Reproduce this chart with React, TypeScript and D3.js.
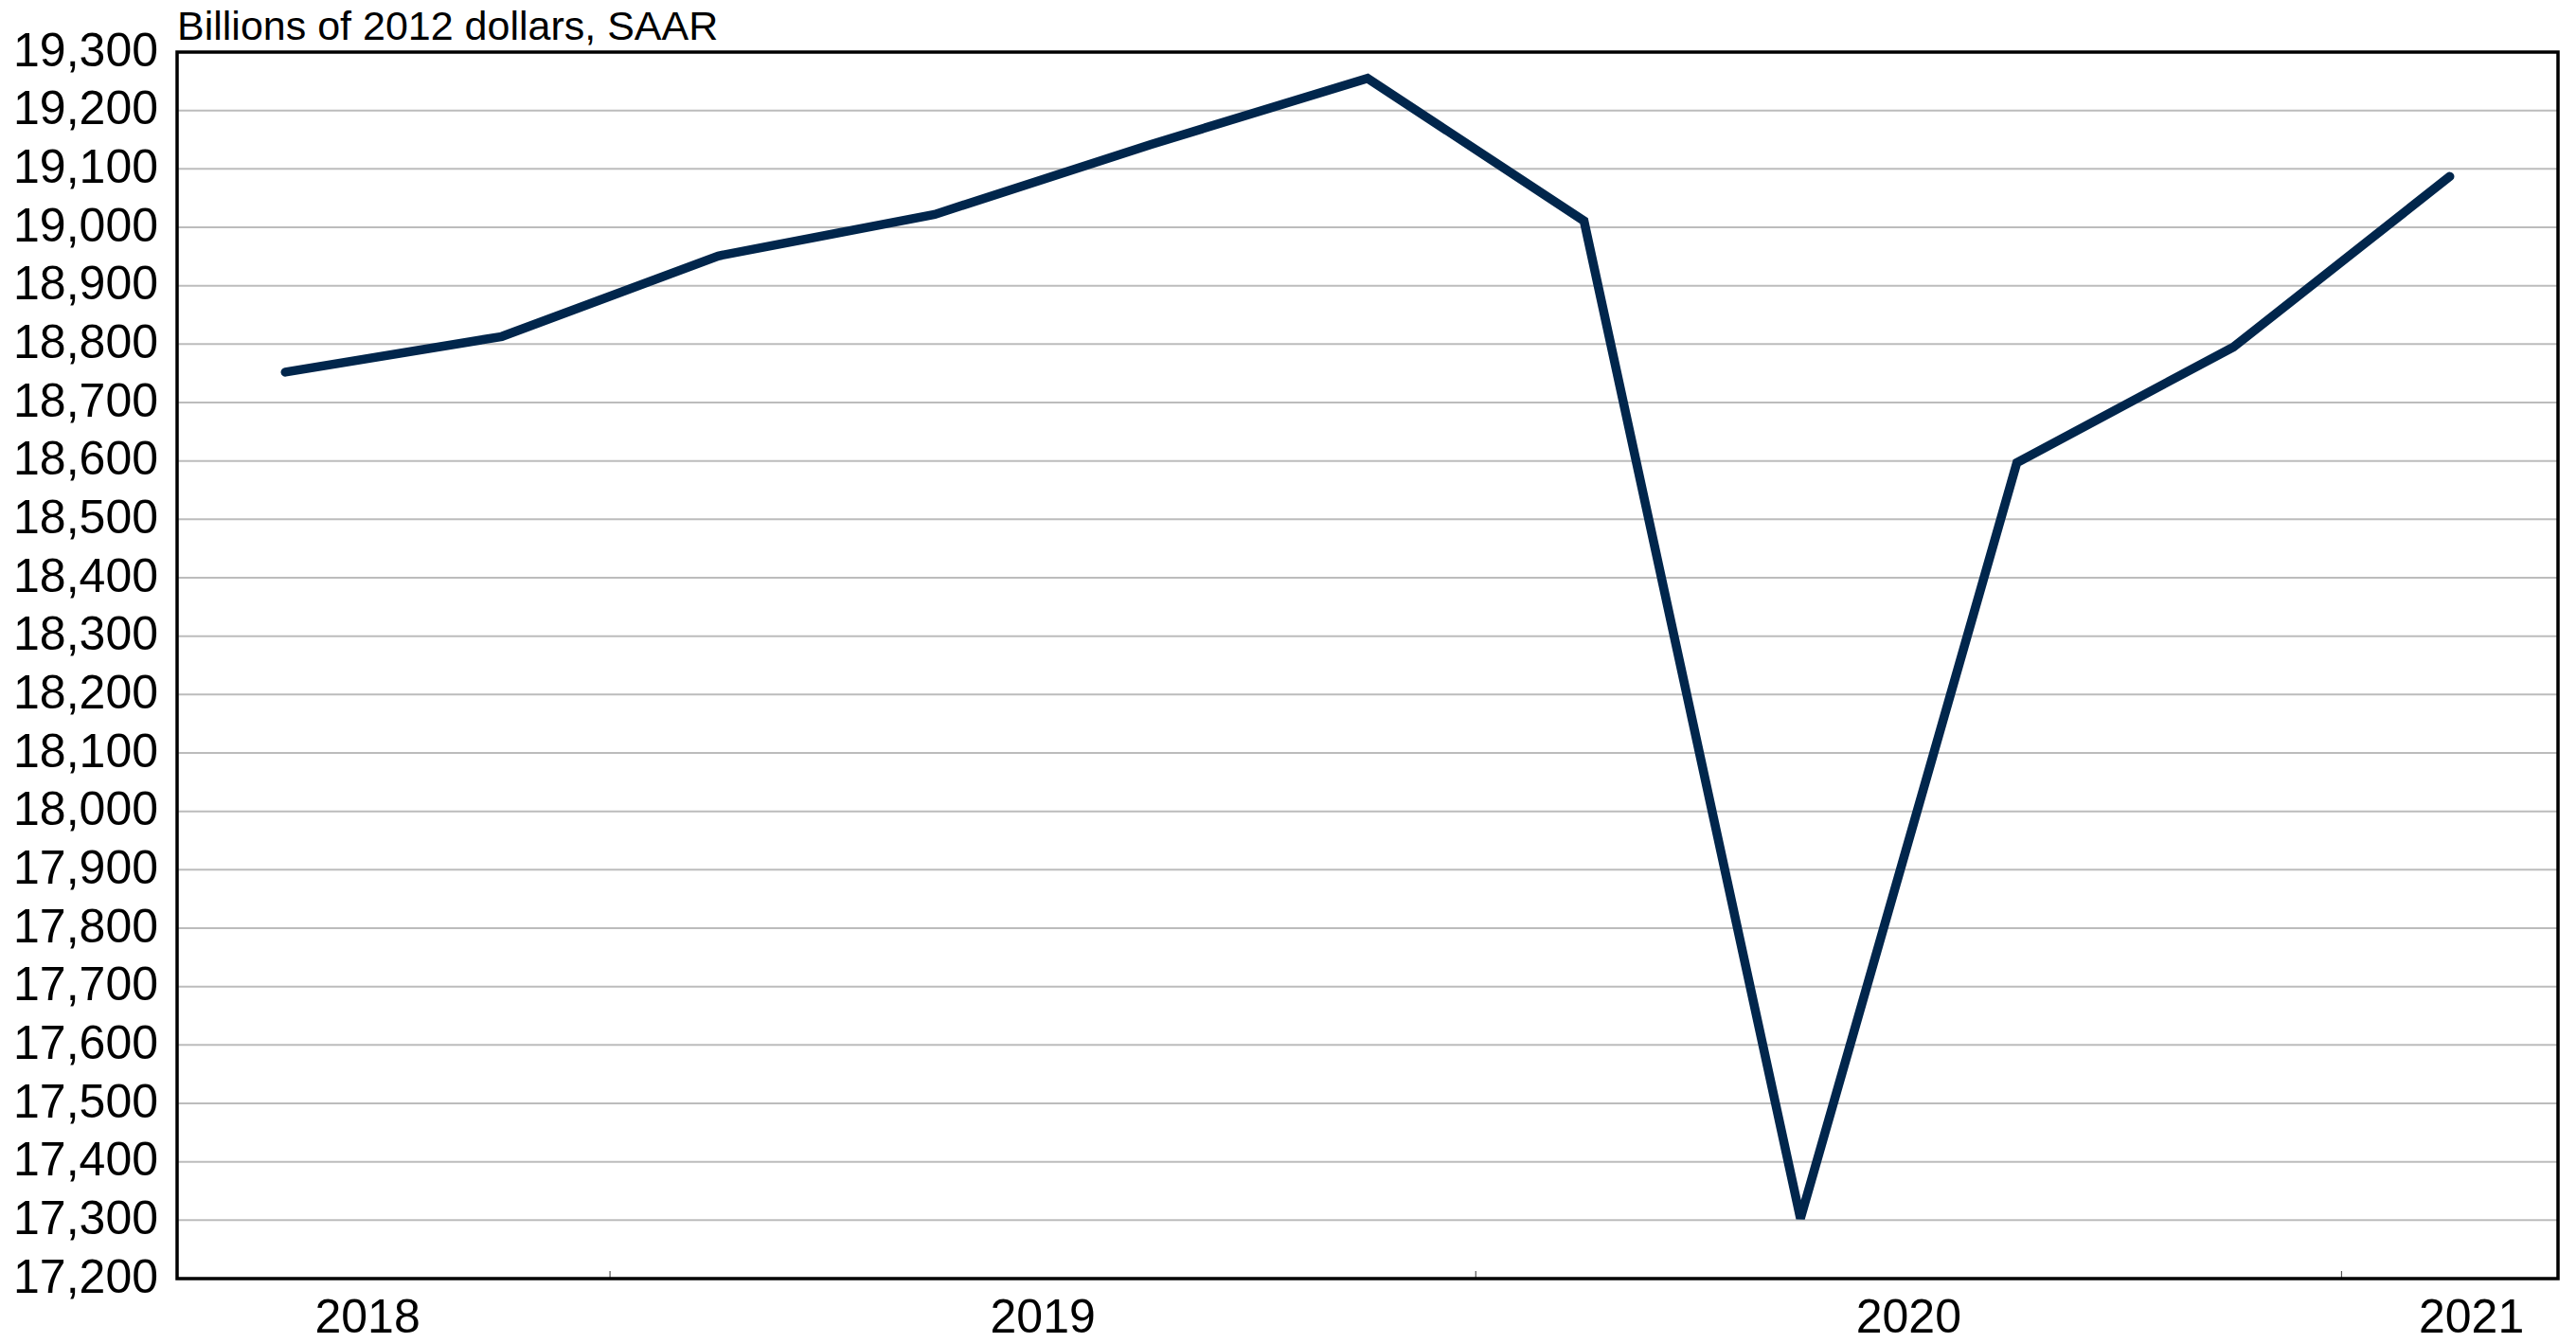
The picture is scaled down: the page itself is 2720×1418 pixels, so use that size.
import React from "react";
import * as d3 from "d3";

// real GDP, quarterly, 2018Q3 .. 2021Q1
const quarters = ["2018Q3", "2018Q4", "2019Q1", "2019Q2", "2019Q3", "2019Q4", "2020Q1", "2020Q2", "2020Q3", "2020Q4", "2021Q1"];
const gdp = [18752, 18813, 18951, 19022, 19142, 19255, 19011, 17303, 18597, 18795, 19087];

const yearLabels = ["2018", "2019", "2020", "2021"];
const yearLabelAt = [0.38, 3.5, 7.5, 10.1]; // in quarter index units
const yearBreaks = [1.5, 5.5, 9.5];
const yTicks = d3.range(17200, 19301, 100);

const subtitle = "Billions of 2012 dollars, SAAR";

export default function App() {
  const width = 2720;
  const height = 1418;
  const margin = { top: 55, right: 19, bottom: 68, left: 187 };
  const font = "'Liberation Sans', Arial, sans-serif";

  const x = d3
    .scaleLinear()
    .domain([-0.5, quarters.length - 0.5])
    .range([margin.left, width - margin.right]);
  const y = d3
    .scaleLinear()
    .domain([17200, 19300])
    .range([height - margin.bottom, margin.top]);

  const line = d3
    .line<number>()
    .x((d, i) => x(i))
    .y((d) => y(d));

  const bottom = height - margin.bottom;

  return (
    <svg
      width={width}
      height={height}
      style={{ position: "absolute", left: 0, top: 0, display: "block", background: "#fff" }}
    >
      {/* gridlines */}
      {yTicks.map((t) => (
        <line
          key={"g" + t}
          x1={margin.left}
          x2={width - margin.right}
          y1={y(t)}
          y2={y(t)}
          stroke="#bcbcbc"
          strokeWidth={2}
        />
      ))}
      {/* year boundary ticks */}
      {yearBreaks.map((b) => (
        <line key={"t" + b} x1={x(b)} x2={x(b)} y1={bottom} y2={bottom - 8} stroke="#555" strokeWidth={1.2} />
      ))}
      {/* frame */}
      <rect
        x={margin.left}
        y={margin.top}
        width={width - margin.left - margin.right}
        height={bottom - margin.top}
        fill="none"
        stroke="#000"
        strokeWidth={3.5}
      />
      {/* series */}
      <path
        d={line(gdp) || ""}
        fill="none"
        stroke="#01264c"
        strokeWidth={9.5}
        strokeLinecap="round"
        strokeLinejoin="miter"
      />
      {/* y labels */}
      {yTicks.map((t) => (
        <text
          key={"l" + t}
          x={margin.left - 20}
          y={y(t) - 3}
          dy="0.35em"
          textAnchor="end"
          fontFamily={font}
          fontSize={50}
          fill="#000"
        >
          {d3.format(",")(t)}
        </text>
      ))}
      {/* x labels */}
      {yearLabels.map((lab, i) => (
        <text
          key={lab}
          x={x(yearLabelAt[i])}
          y={bottom + 57}
          textAnchor="middle"
          fontFamily={font}
          fontSize={50}
          fill="#000"
        >
          {lab}
        </text>
      ))}
      <text x={margin.left} y={42} fontFamily={font} fontSize={43} fill="#000">
        {subtitle}
      </text>
    </svg>
  );
}
